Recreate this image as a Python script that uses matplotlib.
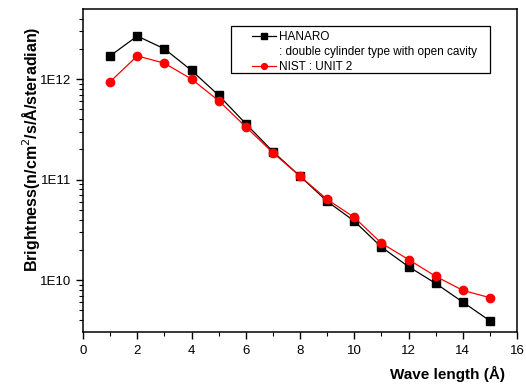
import matplotlib
matplotlib.use("Agg")
import matplotlib.pyplot as plt
from matplotlib.ticker import LogLocator, FixedLocator, NullFormatter, MultipleLocator
from matplotlib.lines import Line2D
from matplotlib.patches import Rectangle

plt.rcParams['font.family'] = ['Liberation Sans', 'DejaVu Sans']

wavelength = [1, 2, 3, 4, 5, 6, 7, 8, 9, 10, 11, 12, 13, 14, 15]
hanaro = [1.70e12, 2.68e12, 2.00e12, 1.22e12, 6.9e11, 3.6e11, 1.9e11, 1.08e11,
          6.07e10, 3.86e10, 2.13e10, 1.36e10, 9.27e9, 6.04e9, 3.93e9]
nist = [9.4e11, 1.70e12, 1.44e12, 1.00e12, 6.1e11, 3.35e11, 1.85e11, 1.08e11,
        6.35e10, 4.2e10, 2.33e10, 1.60e10, 1.09e10, 7.9e9, 6.67e9]
ytick_vals = [1e10, 1e11, 1e12]
ytick_labels = ['1E10', '1E11', '1E12']
legend_labels = ['HANARO', ': double cylinder type with open cavity', 'NIST : UNIT 2']

W, H = 526, 385
fig = plt.figure(figsize=(W/100, H/100), dpi=100)
ax = fig.add_axes([83/W, 1-332/H, (517-83)/W, (332-9)/H])

l1, = ax.plot(wavelength, hanaro, color='black', lw=0.9, marker='s', ms=5.5)
l2, = ax.plot(wavelength, nist, color='red', lw=0.9, marker='o', ms=6)

ax.set_yscale('log')
ax.set_ylim(3.04e9, 4.98e12)
ax.set_xlim(0, 16)
ax.xaxis.set_major_locator(MultipleLocator(2))
ax.xaxis.set_minor_locator(MultipleLocator(1))
ax.yaxis.set_major_locator(FixedLocator(ytick_vals))
ax.set_yticklabels(ytick_labels)
ax.yaxis.set_minor_locator(LogLocator(base=10, subs=range(2, 10)))
ax.yaxis.set_minor_formatter(NullFormatter())

ax.tick_params(which='major', direction='out', length=5, width=1, labelsize=9.5, color='black')
ax.tick_params(which='minor', direction='out', length=3, width=0.8)
ax.tick_params(axis='x', pad=4)
for s in ax.spines.values():
    s.set_linewidth(1.1)

ax.set_ylabel('Brightness(n/cm$^2$/s/Å/steradian)', fontsize=11.5, fontweight='bold')
ax.yaxis.set_label_coords(-0.094, 0.567)
ax.set_xlabel('Wave length (Å)', fontsize=11, fontweight='bold')
ax.xaxis.set_label_coords((447-83)/434, -(366-332)/323)

blank = Line2D([], [], linestyle='none', marker=None)
leg = ax.legend([l1, blank, l2], legend_labels, loc='upper left',
                bbox_to_anchor=((252-83)/434, 1-(31-9)/323),
                fontsize=8.5, frameon=False, borderpad=0.0, borderaxespad=0.0,
                labelspacing=0.25, handlelength=2.0, handletextpad=0.3, markerscale=0.7)
fig.patches.append(Rectangle((231/W, 1-73/H), (490-231)/W, (73-26)/H,
                             transform=fig.transFigure, fill=False,
                             edgecolor='black', linewidth=0.9, zorder=5))

fig.savefig('out.png', dpi=100)
